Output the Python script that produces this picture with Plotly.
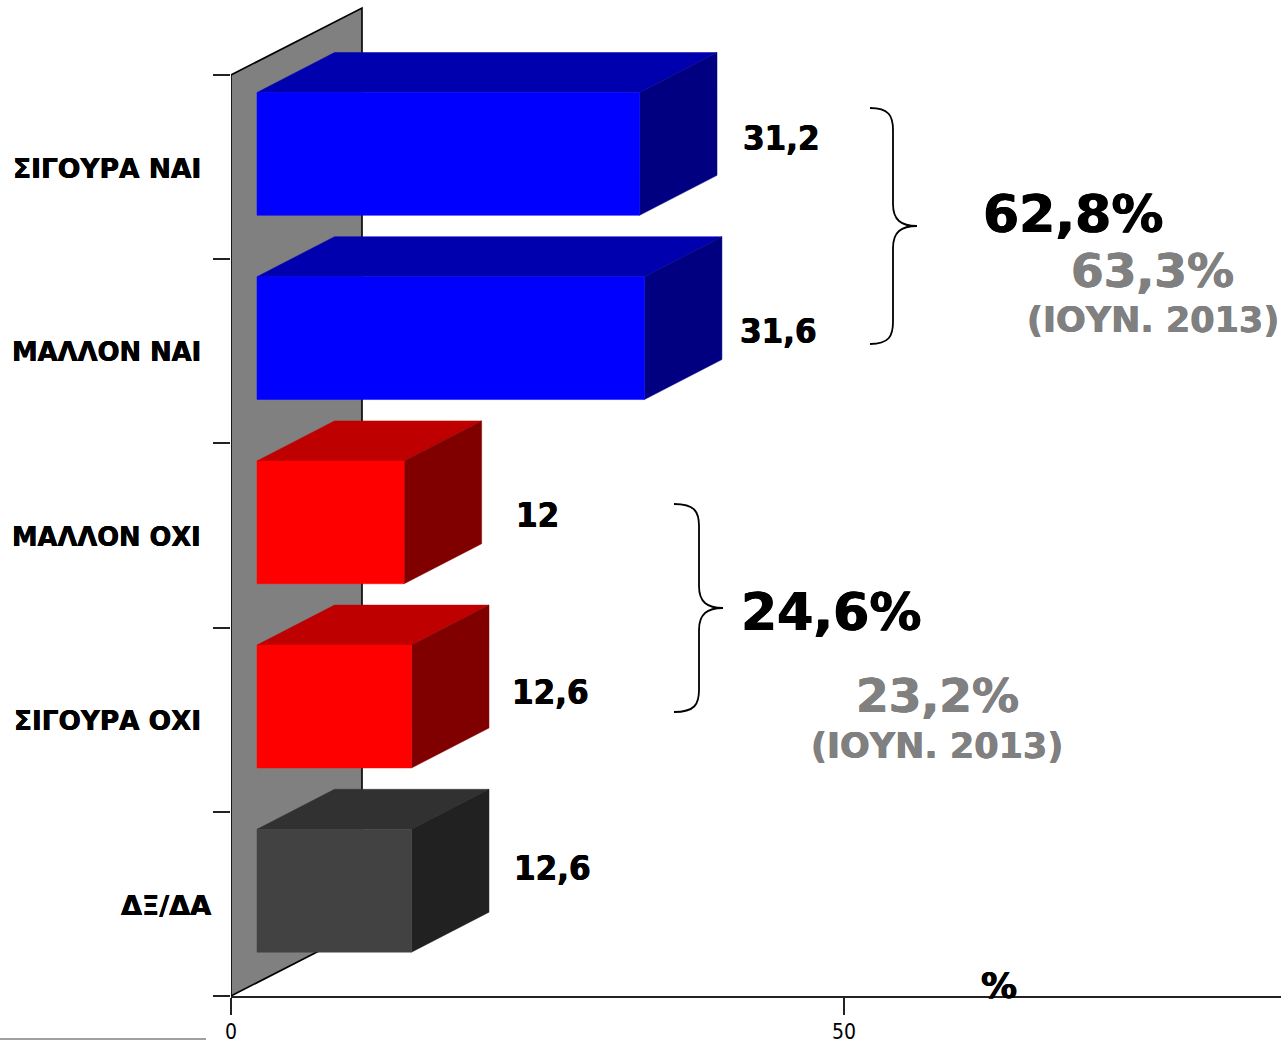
import plotly.graph_objects as go

# ---- data (top to bottom as shown) ----
categories = ["ΣΙΓΟΥΡΑ ΝΑΙ", "ΜΑΛΛΟΝ ΝΑΙ", "ΜΑΛΛΟΝ ΟΧΙ", "ΣΙΓΟΥΡΑ ΟΧΙ", "ΔΞ/ΔΑ"]
values = [31.2, 31.6, 12, 12.6, 12.6]
value_labels = ["31,2", "31,6", "12", "12,6", "12,6"]
front_colors = ["#0000FF", "#0000FF", "#FF0000", "#FF0000", "#424242"]
top_colors = ["#0000AF", "#0000AF", "#BF0000", "#BF0000", "#313131"]
side_colors = ["#000080", "#000080", "#800000", "#800000", "#212121"]
x_ticks = [0, 50]

# ---- geometry / scale ----
W, H = 1281, 1040
L, B = 231, 996           # pixel position of the axes origin
PX_X = 12.26              # pixels per x unit
PX_Y = 184.2              # pixels per category
PLOT_W, PLOT_H = W - L, B


def X(px):
    return (px - L) / PX_X


def Y(py):
    return (B - py) / PX_Y


BASE = 26 / PX_X          # bar start (front face)
DX = 77.5 / PX_X          # extrusion depth
DY = 40 / PX_Y
BAR_LO, BAR_HI = 0.238, 0.905
WALL_X = 131 / PX_X
WALL_Y = 67 / PX_Y

n = len(categories)
fig = go.Figure()


def poly(xs, ys, fill, line=None):
    fig.add_trace(go.Scatter(
        x=xs + xs[:1], y=ys + ys[:1], mode="lines", fill="toself", fillcolor=fill,
        line=dict(color=line or fill, width=1.6 if line else 0.5),
        hoverinfo="skip", showlegend=False))


# back wall
poly([0, 0, WALL_X, WALL_X], [0, n, n + WALL_Y, WALL_Y], "#808080", "#000000")

# extruded bars
for i, v in enumerate(values):
    lo = n - 1 - i + BAR_LO
    hi = n - 1 - i + BAR_HI
    x0, x1 = BASE, BASE + v
    poly([x0, x0 + DX, x1 + DX, x1], [hi, hi + DY, hi + DY, hi], top_colors[i])
    poly([x1, x1 + DX, x1 + DX, x1], [lo, lo + DY, hi + DY, hi], side_colors[i])
    poly([x0, x1, x1, x0], [lo, lo, hi, hi], front_colors[i])

FONT = "DejaVu Sans"
FONT_NARROW = "DejaVu Sans Condensed"
ann = []


def ptext(s, px, py, size, color="#000000", anchor="center", family=FONT):
    t = round(size * 0.012, 2)
    ann.append(dict(text=f"<b>{s}</b>", x=(px - L) / PLOT_W, y=(B - py) / PLOT_H,
                    xref="paper", yref="paper", xanchor=anchor, yanchor="middle",
                    showarrow=False, borderpad=0, borderwidth=0,
                    font=dict(family=family, size=size, color=color,
                              shadow=f"{t}px 0 0 {color}, -{t}px 0 0 {color}")))


# category labels
for i, (c, py, sz) in enumerate(zip(categories, [168, 352, 536.5, 720.5, 905],
                                    [26.5, 25.8, 25.7, 26.3, 27.2])):
    ptext(c, 211 if i == n - 1 else 201, py, sz, anchor="right")

# value labels
for s, (px, py) in zip(value_labels, [(781, 138), (778, 331), (537, 515), (550, 692), (552, 868)]):
    ptext(s, px, py, 34.5, family=FONT_NARROW)

# group totals
ptext("62,8%", 1073, 214, 52)
ptext("63,3%", 1152, 270, 47, "#808080")
ptext("(ΙΟΥΝ. 2013)", 1153, 320, 35, "#808080")
ptext("24,6%", 831, 612, 52)
ptext("23,2%", 937, 695, 47, "#808080")
ptext("(ΙΟΥΝ. 2013)", 937, 746, 35, "#808080")
ptext("%", 999, 985, 36)


def brace(xs, xv, xt, y0, ym, y1):
    r = 22
    return (f"M{X(xs)},{Y(y0)} C{X(xv - 4)},{Y(y0)} {X(xv)},{Y(y0 + 8)} {X(xv)},{Y(y0 + r)} "
            f"L{X(xv)},{Y(ym - r)} C{X(xv)},{Y(ym - 6)} {X(xv + 8)},{Y(ym)} {X(xt)},{Y(ym)} "
            f"C{X(xv + 8)},{Y(ym)} {X(xv)},{Y(ym + 6)} {X(xv)},{Y(ym + r)} "
            f"L{X(xv)},{Y(y1 - r)} C{X(xv)},{Y(y1 - 8)} {X(xv - 4)},{Y(y1)} {X(xs)},{Y(y1)}")


shapes = [
    dict(type="path", xref="x", yref="y", path=brace(870, 893, 917, 108, 226, 344),
         line=dict(color="#000000", width=1.8)),
    dict(type="path", xref="x", yref="y", path=brace(674, 699, 723, 504, 608, 712),
         line=dict(color="#000000", width=1.8)),
    dict(type="line", xref="paper", yref="paper", x0=(0 - L) / PLOT_W, x1=(206 - L) / PLOT_W,
         y0=(B - 1039) / PLOT_H, y1=(B - 1039) / PLOT_H,
         line=dict(color="#808080", width=1.5)),
]

fig.update_layout(
    width=W, height=H, autosize=False,
    margin=dict(l=L, r=0, t=0, b=H - B, pad=0, autoexpand=False),
    paper_bgcolor="#FFFFFF", plot_bgcolor="rgba(0,0,0,0)",
    annotations=ann, shapes=shapes,
    xaxis=dict(range=[0, (W - L) / PX_X], tickmode="array", tickvals=x_ticks, automargin=False,
               ticktext=[str(t) for t in x_ticks], ticks="outside", ticklen=17, tickwidth=1.5,
               tickcolor="#222222", showgrid=False, zeroline=False, showline=True,
               linecolor="#222222", linewidth=1.5, ticklabelstandoff=-1,
               tickfont=dict(family=FONT_NARROW, size=21, color="#000000")),
    yaxis=dict(range=[0, B / PX_Y], tickmode="array", tickvals=list(range(n + 1)), automargin=False,
               ticks="outside", ticklen=17, tickwidth=1.5, tickcolor="#222222",
               showticklabels=False, showgrid=False, zeroline=False, showline=False),
)

fig.write_html("out.html", config={"displayModeBar": False},
               post_script="document.body.style.margin='0';document.body.style.overflow='hidden';")
